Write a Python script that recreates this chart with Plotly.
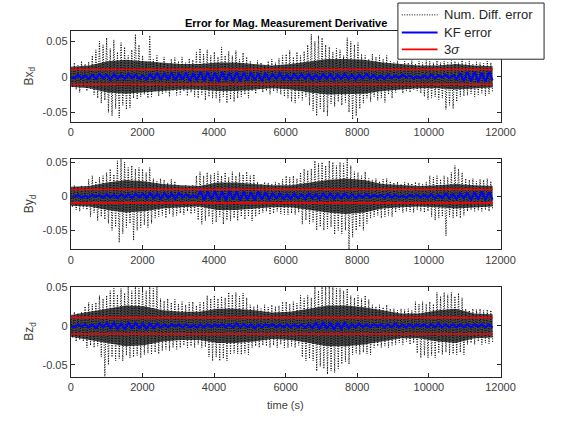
import numpy as np
import plotly.graph_objects as go

# ---------------- data ----------------
T_END = 11780  # last time sample (s)

x_ticks = [0, 2000, 4000, 6000, 8000, 10000, 12000]
y_ticks = [-0.05, 0, 0.05]
y_tick_text = ["-0.05", "0", "0.05"]
y_labels = ["Bx<sub>d</sub>", "By<sub>d</sub>", "Bz<sub>d</sub>"]
y_ranges = [[-0.064, 0.065], [-0.078, 0.055], [-0.065, 0.05]]
legend_names = ["Num. Diff. error", "KF error", "3<i>σ</i>"]

# 3-sigma bounds per axis
sigma3 = [0.0104, 0.0098, 0.0105]

# numerical differentiation error (sampled roughly every 50 s)
numdiff_bx = [
    0.012, -0.015, 0.02, -0.018, 0.016, -0.022, 0.022, -0.014, 0.018, -0.02, 0.021, -0.017, 0.03, -0.025, 0.038, -0.03, 0.05, -0.037, 0.045, -0.033,
    0.055, -0.05, 0.04, -0.055, 0.052, -0.045, 0.035, -0.058, 0.048, -0.04, 0.042, -0.046, 0.03, -0.044, 0.038, -0.03, 0.06, -0.032, 0.045, -0.028,
    0.03, -0.025, 0.022, -0.03, 0.058, -0.028, 0.025, -0.02, 0.03, -0.027, 0.02, -0.024, 0.028, -0.022, 0.018, -0.028, 0.025, -0.02, 0.027, -0.026,
    0.022, -0.025, 0.028, -0.02, 0.02, -0.027, 0.026, -0.022, 0.024, -0.028, 0.035, -0.03, 0.04, -0.025, 0.032, -0.033, 0.038, -0.028, 0.03, -0.03,
    0.035, -0.03, 0.028, -0.036, 0.042, -0.028, 0.03, -0.037, 0.036, -0.032, 0.03, -0.035, 0.037, -0.03, 0.025, -0.028, 0.034, -0.025, 0.028, -0.03,
    0.022, -0.02, 0.018, -0.024, 0.023, -0.018, 0.02, -0.022, 0.016, -0.02, 0.022, -0.025, 0.025, -0.02, 0.02, -0.022, 0.026, -0.025, 0.03, -0.028,
    0.032, -0.03, 0.037, -0.035, 0.028, -0.037, 0.035, -0.03, 0.03, -0.033, 0.036, -0.028, 0.045, -0.04, 0.06, -0.048, 0.05, -0.055, 0.058, -0.045,
    0.055, -0.05, 0.045, -0.055, 0.042, -0.038, 0.035, -0.042, 0.04, -0.035, 0.038, -0.04, 0.03, -0.036, 0.055, -0.05, 0.05, -0.06, 0.045, -0.055,
    0.048, -0.045, 0.032, -0.037, 0.03, -0.03, 0.025, -0.035, 0.032, -0.028, 0.028, -0.033, 0.03, -0.03, 0.025, -0.036, 0.03, -0.025, 0.022, -0.03,
    0.02, -0.022, 0.023, -0.018, 0.018, -0.023, 0.022, -0.02, 0.02, -0.022, 0.023, -0.018, 0.018, -0.02, 0.022, -0.023, 0.02, -0.028, 0.023, -0.032,
    0.022, -0.03, 0.02, -0.028, 0.023, -0.032, 0.02, -0.03, 0.022, -0.046, 0.02, -0.04, 0.023, -0.045, 0.022, -0.035, 0.02, -0.028, 0.025, -0.027,
    0.02, -0.026, 0.022, -0.024, 0.018, -0.028, 0.021, -0.025, 0.02, -0.023, 0.019, -0.027, 0.022, -0.024, 0.02, -0.022,
]
numdiff_by = [
    0.012, -0.016, 0.016, -0.02, 0.014, -0.022, 0.016, -0.018, 0.015, -0.02, 0.025, -0.03, 0.03, -0.024, 0.022, -0.036, 0.028, -0.03, 0.03, -0.034,
    0.035, -0.04, 0.04, -0.05, 0.032, -0.045, 0.052, -0.068, 0.055, -0.055, 0.05, -0.046, 0.042, -0.04, 0.045, -0.065, 0.04, -0.05, 0.042, -0.046,
    0.04, -0.042, 0.035, -0.046, 0.042, -0.04, 0.026, -0.032, 0.022, -0.03, 0.026, -0.028, 0.024, -0.032, 0.02, -0.026, 0.025, -0.03, 0.022, -0.028,
    0.016, -0.025, 0.014, -0.027, 0.016, -0.022, 0.015, -0.026, 0.016, -0.024, 0.03, -0.035, 0.036, -0.041, 0.03, -0.036, 0.035, -0.03, 0.032, -0.04,
    0.034, -0.038, 0.036, -0.03, 0.03, -0.041, 0.035, -0.035, 0.028, -0.036, 0.036, -0.032, 0.03, -0.036, 0.035, -0.03, 0.032, -0.034, 0.036, -0.03,
    0.03, -0.036, 0.032, -0.03, 0.021, -0.027, 0.018, -0.024, 0.021, -0.022, 0.02, -0.027, 0.018, -0.025, 0.021, -0.022, 0.02, -0.026, 0.025, -0.027,
    0.03, -0.027, 0.028, -0.025, 0.03, -0.027, 0.026, -0.024, 0.035, -0.041, 0.04, -0.035, 0.038, -0.04, 0.04, -0.038, 0.052, -0.05, 0.048, -0.045,
    0.05, -0.05, 0.045, -0.048, 0.052, -0.045, 0.05, -0.056, 0.045, -0.05, 0.05, -0.055, 0.048, -0.05, 0.055, -0.078, 0.045, -0.06, 0.036, -0.05,
    0.035, -0.045, 0.03, -0.05, 0.036, -0.04, 0.026, -0.032, 0.024, -0.03, 0.026, -0.028, 0.022, -0.032, 0.025, -0.03, 0.026, -0.028, 0.022, -0.03,
    0.02, -0.024, 0.021, -0.02, 0.018, -0.024, 0.021, -0.022, 0.02, -0.023, 0.019, -0.024, 0.021, -0.02, 0.02, -0.022, 0.018, -0.024, 0.021, -0.022,
    0.03, -0.03, 0.028, -0.035, 0.03, -0.032, 0.025, -0.03, 0.03, -0.058, 0.028, -0.03, 0.035, -0.032, 0.045, -0.03, 0.04, -0.032, 0.035, -0.028,
    0.026, -0.022, 0.024, -0.02, 0.026, -0.022, 0.022, -0.021, 0.025, -0.022, 0.024, -0.02, 0.026, -0.022, 0.022, -0.02,
]
numdiff_bz = [
    0.012, -0.015, 0.018, -0.02, 0.016, -0.018, 0.018, -0.02, 0.025, -0.028, 0.03, -0.025, 0.028, -0.028, 0.03, -0.026, 0.039, -0.04, 0.035, -0.066,
    0.039, -0.05, 0.045, -0.04, 0.048, -0.045, 0.04, -0.042, 0.048, -0.045, 0.042, -0.038, 0.05, -0.041, 0.045, -0.04, 0.05, -0.038, 0.048, -0.041,
    0.05, -0.037, 0.045, -0.035, 0.05, -0.037, 0.048, -0.034, 0.05, -0.036, 0.035, -0.032, 0.032, -0.03, 0.035, -0.032, 0.03, -0.028, 0.034, -0.03,
    0.028, -0.028, 0.031, -0.025, 0.027, -0.028, 0.03, -0.026, 0.031, -0.028, 0.026, -0.024, 0.03, -0.028, 0.031, -0.027, 0.039, -0.04, 0.035, -0.045,
    0.039, -0.04, 0.035, -0.045, 0.038, -0.042, 0.036, -0.045, 0.043, -0.037, 0.04, -0.035, 0.043, -0.036, 0.038, -0.037, 0.042, -0.035, 0.036, -0.037,
    0.027, -0.028, 0.025, -0.026, 0.027, -0.028, 0.022, -0.025, 0.027, -0.026, 0.024, -0.028, 0.027, -0.025, 0.025, -0.028, 0.026, -0.024, 0.031, -0.028,
    0.031, -0.028, 0.028, -0.026, 0.031, -0.028, 0.029, -0.025, 0.039, -0.04, 0.035, -0.045, 0.039, -0.042, 0.036, -0.045, 0.05, -0.058, 0.045, -0.052,
    0.05, -0.055, 0.052, -0.062, 0.05, -0.058, 0.052, -0.06, 0.048, -0.055, 0.048, -0.049, 0.045, -0.046, 0.048, -0.049, 0.039, -0.037, 0.036, -0.035,
    0.039, -0.037, 0.035, -0.034, 0.039, -0.036, 0.034, -0.037, 0.027, -0.028, 0.025, -0.026, 0.027, -0.028, 0.024, -0.026, 0.027, -0.028, 0.022, -0.025,
    0.022, -0.024, 0.02, -0.022, 0.022, -0.024, 0.021, -0.02, 0.022, -0.024, 0.02, -0.022, 0.031, -0.035, 0.028, -0.041, 0.031, -0.038, 0.028, -0.041,
    0.031, -0.038, 0.028, -0.041, 0.043, -0.035, 0.038, -0.037, 0.043, -0.034, 0.04, -0.037, 0.043, -0.036, 0.038, -0.037, 0.042, -0.034, 0.036, -0.037,
    0.022, -0.024, 0.02, -0.022, 0.022, -0.024, 0.021, -0.02, 0.022, -0.024, 0.02, -0.022, 0.021, -0.023, 0.02, -0.022,
]

# half-width of the dense (solid-looking) core of the Num. Diff. error, every ~500 s
core_bx = [0.014, 0.016, 0.022, 0.024, 0.022, 0.02, 0.018, 0.018, 0.02, 0.02, 0.018, 0.016,
           0.018, 0.022, 0.025, 0.025, 0.024, 0.02, 0.018, 0.016, 0.016, 0.018, 0.016, 0.015]
core_by = [0.014, 0.015, 0.02, 0.024, 0.022, 0.018, 0.016, 0.015, 0.02, 0.02, 0.018, 0.016,
           0.016, 0.02, 0.024, 0.026, 0.024, 0.018, 0.016, 0.015, 0.016, 0.018, 0.016, 0.015]
core_bz = [0.014, 0.018, 0.022, 0.026, 0.025, 0.02, 0.018, 0.018, 0.022, 0.022, 0.02, 0.017,
           0.018, 0.022, 0.026, 0.026, 0.024, 0.02, 0.016, 0.016, 0.02, 0.022, 0.016, 0.015]

# Kalman filter error (sampled roughly every 100 s)
kf_bx = [
    0.0, -0.002, 0.003, -0.002, 0.002, -0.003, 0.003, -0.003, 0.004, -0.002, 0.003, -0.004, 0.004, -0.003, 0.003, -0.003, 0.004, -0.002, 0.003, -0.003, 0.002, -0.004, 0.004, -0.003, 0.005,
    -0.004, 0.005, -0.004, 0.006, -0.005, 0.005, -0.004, 0.006, -0.006, 0.005, -0.005, 0.007, -0.006, 0.007, -0.006, 0.006, -0.007, 0.007, -0.005, 0.006, -0.006, 0.007, -0.006, 0.006, -0.005, 0.006, -0.005, 0.005, -0.006, 0.005,
    -0.004, 0.004, -0.003, 0.005, -0.004, 0.003, -0.004, 0.004, -0.003, 0.004,
    -0.003, 0.004, -0.004, 0.003, -0.004, 0.004, -0.003, 0.004, -0.004, 0.003, -0.003, 0.004, -0.003, 0.003, -0.004, 0.003, -0.003, 0.004, -0.002, 0.003, -0.003, 0.002, -0.003, 0.003, -0.002,
    0.002, -0.002, 0.003, -0.001, 0.002, -0.002, 0.001, -0.002, 0.002, -0.002, 0.003, -0.002, 0.002, -0.001, 0.003, -0.002, 0.002, -0.003,
    0.005, -0.006, 0.007, -0.006, 0.007, -0.007, 0.006, -0.007, 0.007, -0.005,
]
kf_by = [
    0.0, -0.001, 0.002, -0.002, 0.001, -0.002, 0.002, -0.001, 0.002, -0.002, 0.003, -0.002, 0.002, -0.003, 0.003,
    -0.002, 0.003, -0.003, 0.004, -0.002, 0.004, -0.003, 0.005, -0.003, 0.004, -0.004, 0.005, -0.003, 0.004, -0.004, 0.005, -0.002, 0.003, -0.002, 0.002,
    -0.002, 0.008, -0.006, 0.007, -0.005, 0.008, -0.006, 0.007, -0.006, 0.008, -0.005, 0.007, -0.006, 0.007, -0.005, 0.006, -0.006, 0.007, -0.005, 0.006,
    -0.004, 0.004, -0.003, 0.004, -0.004,
    0.003, -0.004, 0.004, -0.003, 0.003, -0.004, 0.004, -0.003, 0.003, -0.004, 0.004, -0.003, 0.004, -0.004, 0.003, -0.003, 0.004, -0.003, 0.003, -0.003,
    0.002, -0.002, 0.003, -0.002, 0.002, -0.001, 0.002, -0.002, 0.003, -0.002, 0.002, -0.002, 0.001, -0.002, 0.002, -0.001, 0.002, -0.002, 0.002, -0.002,
    0.003, -0.003, 0.002, -0.003, 0.004, -0.003, 0.003, -0.004, 0.004, -0.003,
    0.005, -0.006, 0.006, -0.005, 0.007, -0.006, 0.006, -0.005,
]
kf_bz = [
    0.0, -0.002, 0.002, -0.001, 0.002, -0.002, 0.002, -0.003, 0.003, -0.002,
    0.004, -0.003, 0.004, -0.004, 0.003, -0.004, 0.004, -0.003, 0.004, -0.003, 0.003, -0.004, 0.003, -0.003, 0.003,
    -0.002, 0.002, -0.002, 0.002, -0.001, 0.002, -0.002, 0.002, -0.002, 0.001, -0.002, 0.002, -0.002, 0.002, -0.002, 0.002, -0.001, 0.002, -0.002, 0.002,
    -0.002, 0.003, -0.002, 0.002, -0.002, 0.002, -0.003, 0.002, -0.002, 0.002, -0.001, 0.002, -0.002, 0.002, -0.002, 0.002, -0.002, 0.002, -0.002, 0.002, -0.002, 0.002, -0.003,
    0.004, -0.004, 0.005, -0.004, 0.004, -0.005, 0.004, -0.004, 0.004, -0.003,
    0.002, -0.002, 0.003, -0.002, 0.002, -0.002, 0.002, -0.001, 0.002, -0.002, 0.002, -0.002, 0.003, -0.002, 0.002, -0.002, 0.002, -0.002, 0.002, -0.001,
    0.002, -0.002, 0.002, -0.002, 0.003, -0.002, 0.002, -0.002, 0.002, -0.002, 0.002, -0.002, 0.002, -0.002, 0.002, -0.001, 0.002, -0.002, 0.002, -0.002,
]

numdiff = [numdiff_bx, numdiff_by, numdiff_bz]
cores = [core_bx, core_by, core_bz]
kf = [kf_bx, kf_by, kf_bz]

# ---------------- figure ----------------
PAGE_W, PAGE_H = 561, 422
TOP_OFF = 8                          # the page places the plot this far down
W, H = PAGE_W, PAGE_H - TOP_OFF
FONT = "Liberation Sans, Arial, Helvetica, sans-serif"
AX_COLOR = "#262626"
TXT_COLOR = "#404040"

ND_STYLE = dict(color="black", width=1, dash="1px,1.5px")
KF_STYLE = dict(color="#0000ff", width=2)
S3_STYLE = dict(color="#ff0000", width=1.6)


def px(p):
    """page x pixel -> paper fraction"""
    return p / W


def py(p):
    """page y pixel (from top) -> paper fraction"""
    return 1 - (p - TOP_OFF) / H


x_left, x_right = 70, 514
boxes_y = [(33, 126), (163, 255), (293, 384)]

fig = go.Figure()

for i in range(3):
    xa = "x" if i == 0 else f"x{i+1}"
    ya = "y" if i == 0 else f"y{i+1}"

    # dense core of the numerical-difference error
    c = np.asarray(cores[i])
    t_c = np.linspace(0, T_END, len(c))
    fig.add_trace(go.Scatter(
        x=np.concatenate([t_c, t_c[::-1]]), y=np.concatenate([c, -c[::-1]]),
        mode="lines", fill="toself", fillcolor="rgba(0,0,0,0.72)",
        line=dict(width=0, color="rgba(0,0,0,0)"),
        xaxis=xa, yaxis=ya, showlegend=False, hoverinfo="skip"))

    nd = numdiff[i]
    t_nd = np.linspace(0, T_END, len(nd))
    fig.add_trace(go.Scatter(
        x=t_nd, y=nd, mode="lines", xaxis=xa, yaxis=ya, line=ND_STYLE,
        name=legend_names[0], showlegend=False, hoverinfo="skip"))
    k = kf[i]
    t_kf = np.linspace(0, T_END, len(k))
    fig.add_trace(go.Scatter(
        x=t_kf, y=k, mode="lines", xaxis=xa, yaxis=ya, line=KF_STYLE,
        name=legend_names[1], showlegend=False, hoverinfo="skip"))
    s = sigma3[i]
    fig.add_trace(go.Scatter(
        x=[0, T_END, None, 0, T_END], y=[s, s, None, -s, -s],
        mode="lines", xaxis=xa, yaxis=ya, line=S3_STYLE,
        name=legend_names[2], showlegend=False, hoverinfo="skip"))

    top, bot = boxes_y[i]
    axis_common = dict(
        showline=True, linecolor=AX_COLOR, linewidth=1, mirror="ticks",
        ticks="inside", ticklen=4, tickcolor=AX_COLOR, tickwidth=1,
        showgrid=False, zeroline=False,
        tickfont=dict(family=FONT, size=11, color=TXT_COLOR),
    )
    fig.update_layout(**{
        ("xaxis" if i == 0 else f"xaxis{i+1}"): dict(
            domain=[px(x_left), px(x_right)], range=[0, 12000],
            tickvals=x_ticks, ticktext=[str(v) for v in x_ticks],
            anchor=ya, **axis_common),
        ("yaxis" if i == 0 else f"yaxis{i+1}"): dict(
            domain=[py(bot), py(top)], range=y_ranges[i],
            tickvals=y_ticks, ticktext=y_tick_text,
            anchor=xa, **axis_common),
    })
    fig.add_annotation(
        text=y_labels[i], xref="paper", yref="paper",
        x=px(28), y=py((top + bot) / 2), textangle=-90,
        showarrow=False, xanchor="center", yanchor="middle",
        font=dict(family=FONT, size=12, color=TXT_COLOR))

fig.add_annotation(
    text="<b>Error for Mag. Measurement Derivative</b>", xref="paper", yref="paper",
    x=px((x_left + x_right) / 2), y=py(25), showarrow=False,
    xanchor="center", yanchor="middle",
    font=dict(family=FONT, size=11, color="black"))

fig.add_annotation(
    text="time (s)", xref="paper", yref="paper",
    x=px((x_left + x_right) / 2), y=py(413), showarrow=False,
    xanchor="center", yanchor="middle",
    font=dict(family=FONT, size=11, color=TXT_COLOR))

# ---- legend box (MATLAB style, compact rows) ----
leg_l, leg_r, leg_t, leg_b = 408, 559, 5, 62
row_y = [17, 35, 52]
fig.add_shape(type="rect", xref="paper", yref="paper",
              x0=px(leg_l), x1=px(leg_r), y0=py(leg_b), y1=py(leg_t),
              line=dict(color=AX_COLOR, width=1), fillcolor="white", layer="above")
for name, style, yy in zip(legend_names, [ND_STYLE, KF_STYLE, S3_STYLE], row_y):
    fig.add_shape(type="line", xref="paper", yref="paper",
                  x0=px(leg_l + 4), x1=px(leg_l + 41), y0=py(yy), y1=py(yy),
                  line=style, layer="above")
    fig.add_annotation(
        text=name, xref="paper", yref="paper", x=px(leg_l + 46), y=py(yy),
        xanchor="left", yanchor="middle", showarrow=False,
        font=dict(family=FONT, size=13, color=AX_COLOR))

fig.update_layout(
    width=W, height=H,
    margin=dict(l=0, r=0, t=0, b=0),
    paper_bgcolor="white", plot_bgcolor="white",
    showlegend=False,
)

fig.write_html("out.html")
